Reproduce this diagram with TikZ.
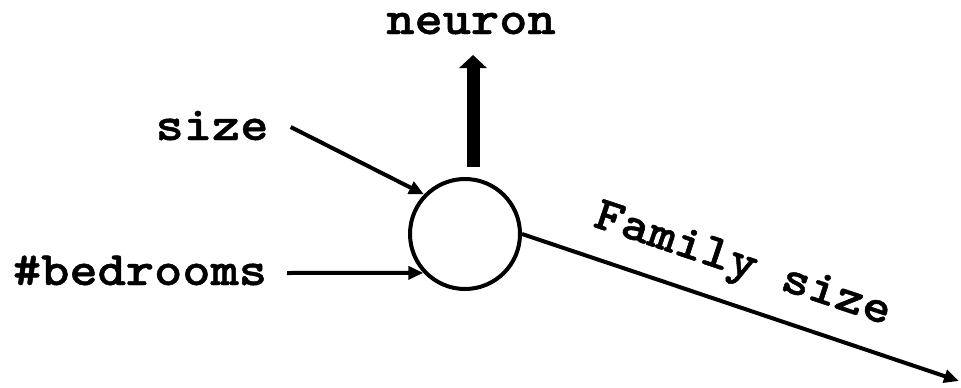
\documentclass[tikz,border=0pt]{standalone}
\usepackage{fontspec}
\newfontfamily\cour[Extension=.otf, FakeStretch=1.12, FakeBold=1]{lmmonolt10-bold}
\usetikzlibrary{arrows.meta}
\begin{document}
\begin{tikzpicture}[x=1pt,y=-1pt,
  lbl/.style={font=\cour\fontsize{48}{50}\selectfont, inner sep=0pt},
  thinarrow/.style={line width=4pt, -{Triangle[length=15pt,width=13pt]}},
  thickarrow/.style={line width=13pt, -{Triangle[length=13pt,width=27pt]}},
  neuronc/.style={circle, draw, line width=4pt, minimum size=110pt, inner sep=0pt}]
\useasboundingbox (0,0) rectangle (961,388);
\node[neuronc] (c) at (465,234) {};
\node[lbl, anchor=base] (neuron) at (471,34) {neuron};
\node[lbl, anchor=base] (size) at (212,140) {size};
\node[lbl, anchor=base] (bed) at (140,285) {\#bedrooms};
\coordinate (fend) at (959,381);
\draw[thinarrow] ([shift={(22,-13)}]size.base east) -- (c.136);
\draw[thinarrow] ([shift={(20,-12)}]bed.base east) -- (c.223);
\draw[thickarrow] ([shift={(8,-10)}]c.north) -- ([shift={(2,21)}]neuron.base);
\draw[thinarrow] (c.east) -- node[lbl, sloped, above=17pt, pos=0.475] (fam) {Family size} (fend);
\end{tikzpicture}
\end{document}
